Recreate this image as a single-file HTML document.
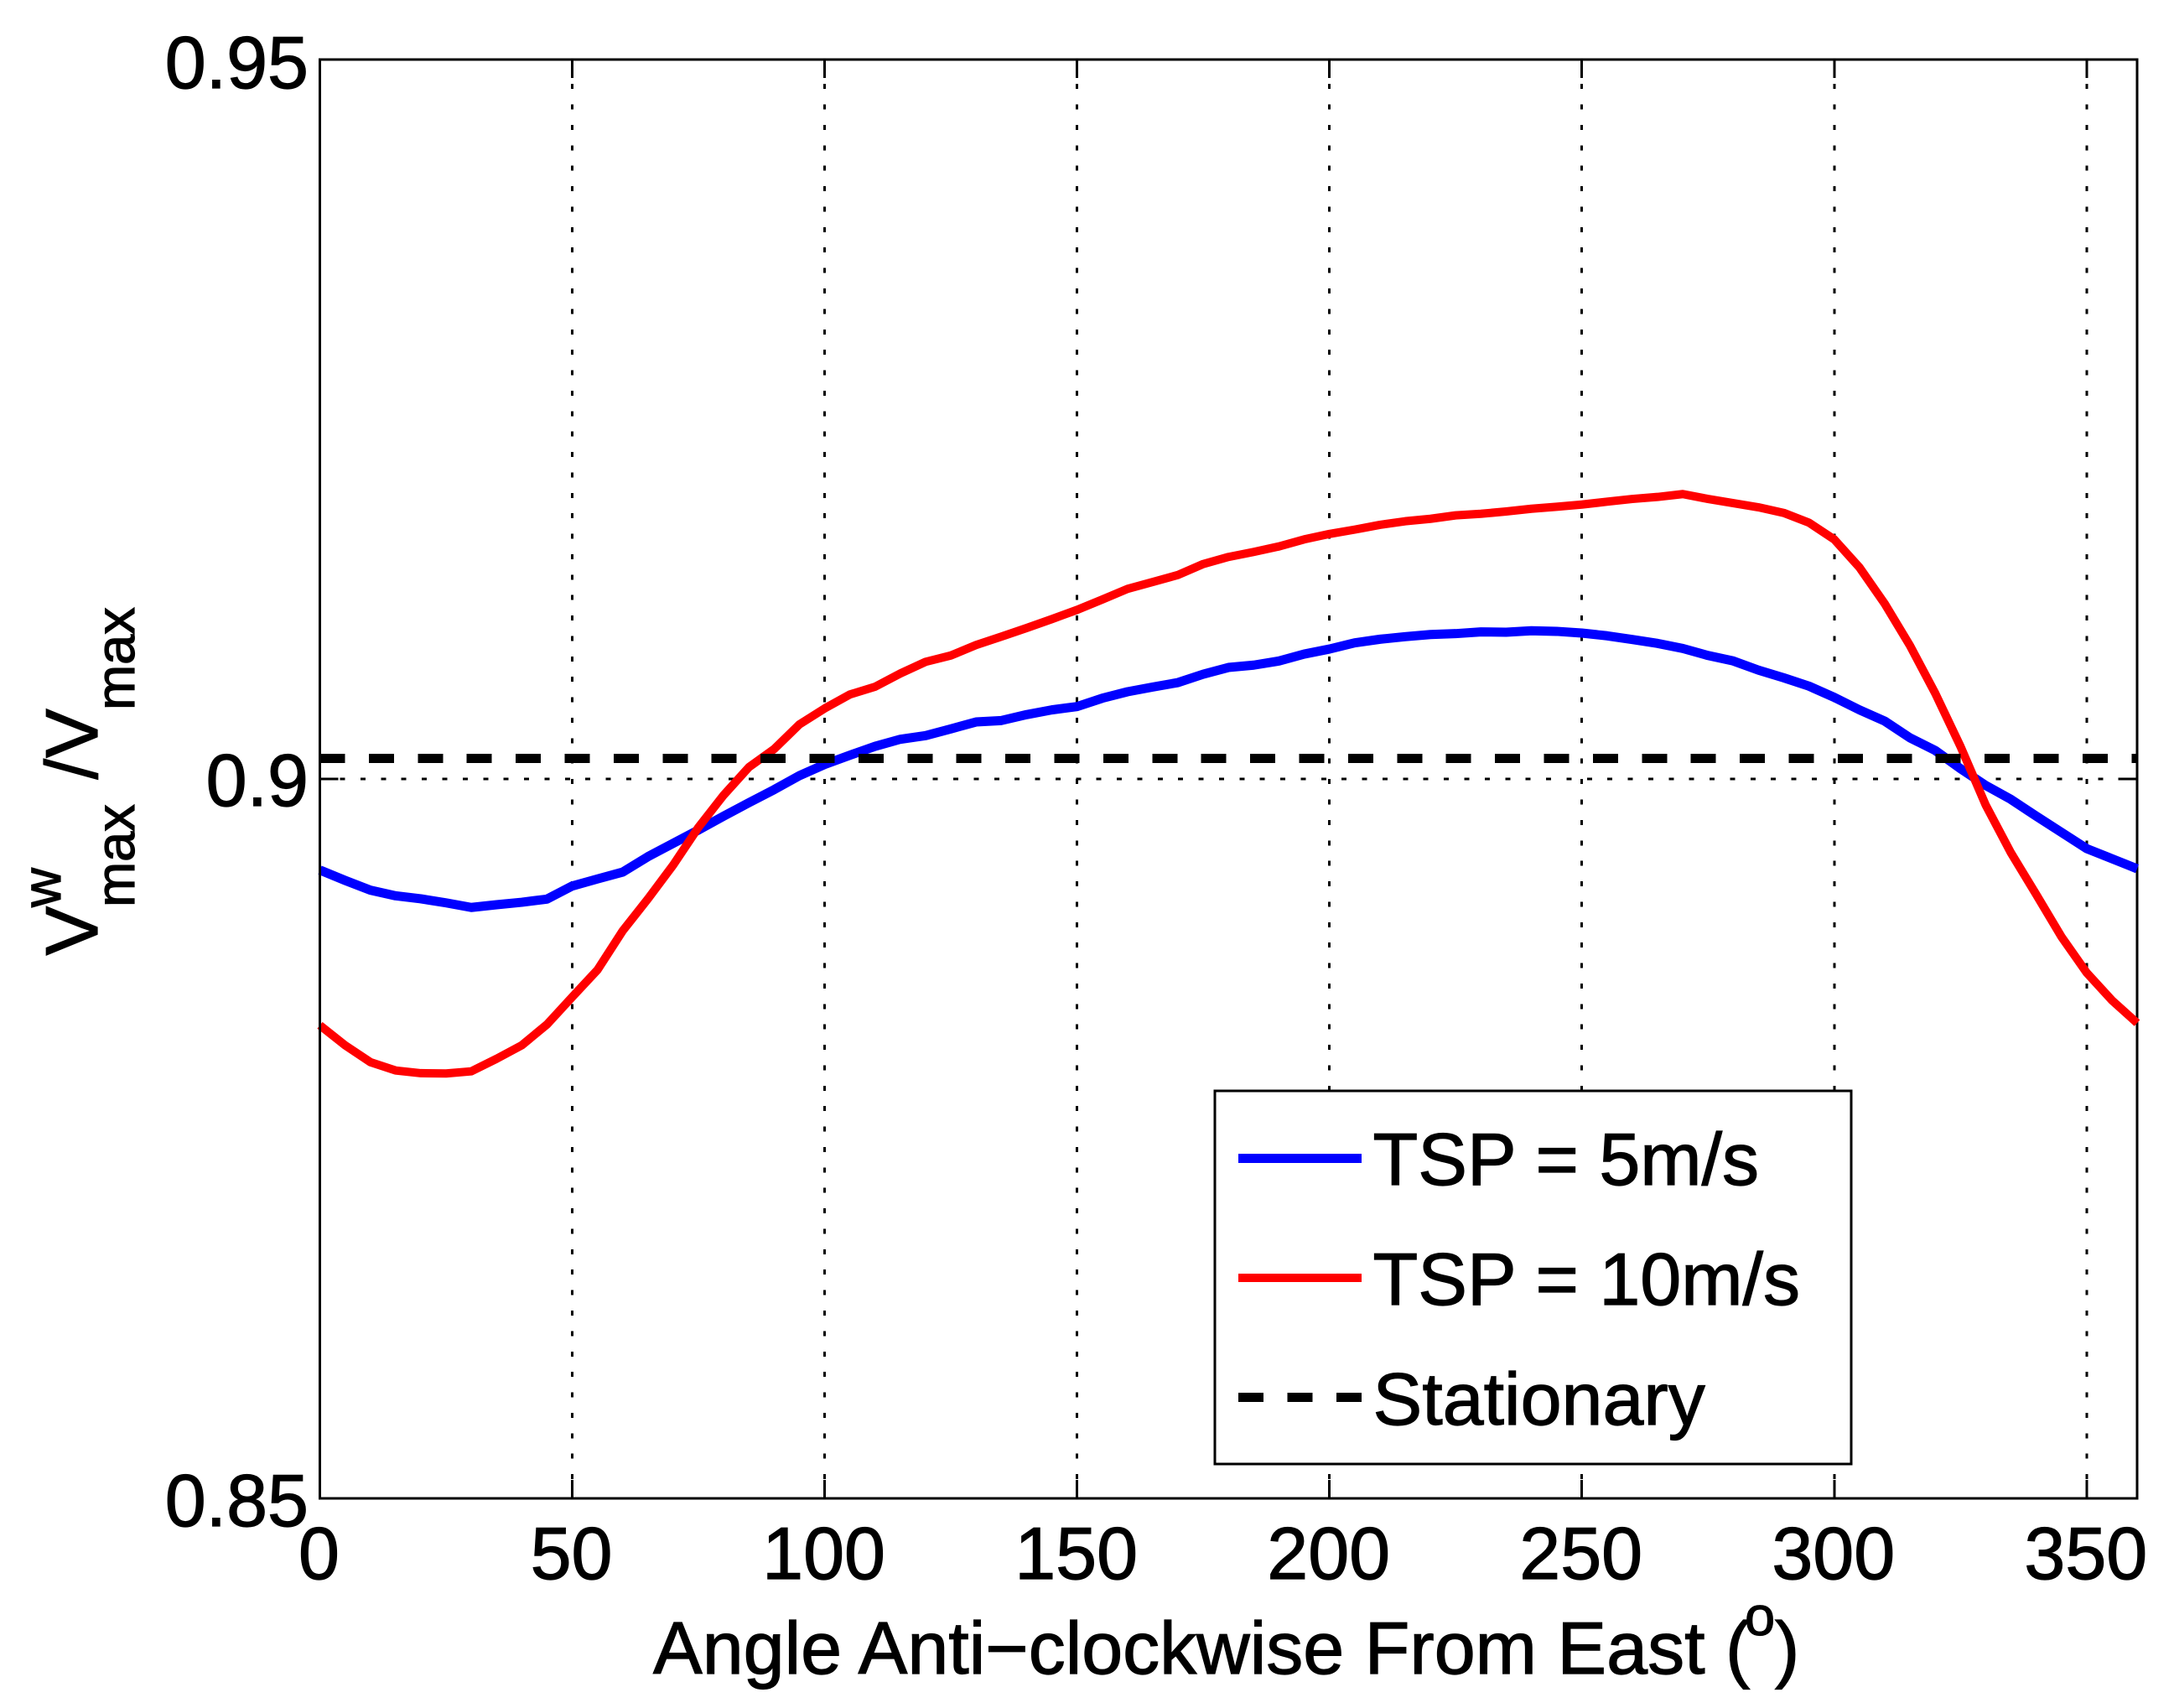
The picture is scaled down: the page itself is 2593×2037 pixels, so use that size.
<!DOCTYPE html>
<html lang="en">
<head>
<meta charset="utf-8">
<title>Vmax ratio versus angle</title>
<style>
html,body{margin:0;padding:0;background:#fff;}
svg{display:block;}
text{font-family:"Liberation Sans",Arial,Helvetica,sans-serif;fill:#000;stroke:#000;stroke-width:1.2px;}
.big{font-size:88px;}
.small{font-size:65px;}
</style>
</head>
<body>
<svg id="chart" xmlns="http://www.w3.org/2000/svg" width="2593" height="2037" viewBox="0 0 2593 2037">
  <rect x="0" y="0" width="2593" height="2037" fill="#ffffff"/>
  <g id="grid"></g>
  <g id="ticks"></g>
  <rect x="381.5" y="71" width="2167.5" height="1716" fill="none" stroke="#000" stroke-width="3" shape-rendering="crispEdges"/>
  <g id="series"></g>
  <line x1="381.5" y1="71" x2="381.5" y2="1787" stroke="#000" stroke-width="3" shape-rendering="crispEdges"/>
  <g id="x-tick-labels"></g>
  <g id="y-tick-labels"></g>

  <g>
    <text class="big" x="779" y="1996">Angle Anti−clockwise From East (</text>
    <text class="small" x="2081" y="1950">o</text>
    <text class="big" x="2117" y="1996">)</text>
  </g>

  <g>
    <text class="big" transform="translate(116,1139.5) rotate(-90)">V</text>
    <text class="small" transform="translate(72,1082) rotate(-90)">w</text>
    <text class="small" transform="translate(160,1082) rotate(-90)">max</text>
    <text class="big" transform="translate(116,929.5) rotate(-90)">/</text>
    <text class="big" transform="translate(116,904) rotate(-90)">V</text>
    <text class="small" transform="translate(160,847) rotate(-90)">max</text>
  </g>

  <g>
    <rect x="1449" y="1301" width="759" height="445" fill="#fff" stroke="#000" stroke-width="3" shape-rendering="crispEdges"/>
    <line x1="1477" y1="1381.5" x2="1624" y2="1381.5" stroke="#0000ff" stroke-width="11" shape-rendering="crispEdges"/>
    <text class="big" x="1637.5" y="1413">TSP = 5m/s</text>
    <line x1="1477" y1="1524" x2="1624" y2="1524" stroke="#ff0000" stroke-width="10" shape-rendering="crispEdges"/>
    <text class="big" x="1637.5" y="1556">TSP = 10m/s</text>
    <line x1="1477" y1="1666.5" x2="1624" y2="1666.5" stroke="#000" stroke-width="11" stroke-dasharray="30 28.5" shape-rendering="crispEdges"/>
    <text class="big" x="1637.5" y="1699">Stationary</text>
  </g>
</svg>

<script>
var angles = [0,5,10,15,20,25,30,35,40,45,50,55,60,65,70,75,80,85,90,95,100,105,110,115,120,125,130,135,140,145,150,155,160,165,170,175,180,185,190,195,200,205,210,215,220,225,230,235,240,245,250,255,260,265,270,275,280,285,290,295,300,305,310,315,320,325,330,335,340,345,350,355,360];
var tsp5Values = [0.89367,0.89295,0.89227,0.89188,0.89167,0.89139,0.89107,0.89126,0.89143,0.89165,0.89256,0.89305,0.89353,0.8946,0.89553,0.89645,0.89742,0.89835,0.89926,0.90023,0.90101,0.90165,0.90227,0.90276,0.90301,0.90348,0.90396,0.90406,0.90447,0.9048,0.90503,0.90561,0.90606,0.90639,0.9067,0.90728,0.90775,0.90791,0.9082,0.90868,0.90903,0.90946,0.90971,0.90989,0.91004,0.9101,0.91022,0.9102,0.9103,0.91026,0.91014,0.90995,0.90969,0.90942,0.90907,0.90858,0.9082,0.90756,0.90703,0.90645,0.90567,0.9048,0.90402,0.90286,0.90198,0.90072,0.89955,0.89858,0.89742,0.89629,0.89516,0.89446,0.89376];
var tsp10Values = [0.88288,0.88149,0.88032,0.87974,0.87955,0.87953,0.87968,0.88055,0.88149,0.88294,0.88485,0.88673,0.88945,0.89167,0.89402,0.89664,0.89888,0.90082,0.90208,0.90379,0.9049,0.90587,0.90641,0.90733,0.90814,0.90858,0.90931,0.90989,0.91049,0.91111,0.91175,0.91247,0.91321,0.91369,0.91418,0.91494,0.91543,0.91578,0.91616,0.91665,0.91703,0.91733,0.91766,0.91791,0.91808,0.91832,0.91843,0.91859,0.91878,0.91892,0.91907,0.91927,0.91946,0.9196,0.9198,0.91946,0.91917,0.91888,0.91849,0.91781,0.91665,0.9147,0.91218,0.90927,0.90596,0.90227,0.89819,0.89487,0.89198,0.88904,0.88654,0.88462,0.88304];
var stationaryAngles = [0,360];
var stationaryValues = [0.90143,0.90143];
var xTickValues = [0,50,100,150,200,250,300,350];
var xTickLabels = ["0","50","100","150","200","250","300","350"];
var yTickValues = [0.85,0.9,0.95];
var yTickLabels = ["0.85","0.9","0.95"];

var SVG_NS = "http://www.w3.org/2000/svg";
var plotLeft = 381.5, plotRight = 2549, plotTop = 71, plotBottom = 1787;
var xMin = 0, xMax = 360, yMin = 0.85, yMax = 0.95;
function xScale(v){ return plotLeft + (v - xMin) / (xMax - xMin) * (plotRight - plotLeft); }
function yScale(v){ return plotBottom - (v - yMin) / (yMax - yMin) * (plotBottom - plotTop); }
function makeLine(x1, y1, x2, y2, width, dash){
  var l = document.createElementNS(SVG_NS, "line");
  l.setAttribute("x1", x1);
  l.setAttribute("y1", y1);
  l.setAttribute("x2", x2);
  l.setAttribute("y2", y2);
  l.setAttribute("stroke", "#000");
  l.setAttribute("stroke-width", width);
  l.setAttribute("shape-rendering", "crispEdges");
  if (dash) { l.setAttribute("stroke-dasharray", dash); }
  return l;
}
function makePath(xs, ys, color, width, dash){
  var d = "";
  for (var i = 0; i < xs.length; i++) {
    d += (i ? "L" : "M") + xScale(xs[i]).toFixed(2) + " " + yScale(ys[i]).toFixed(2);
  }
  var p = document.createElementNS(SVG_NS, "path");
  p.setAttribute("d", d);
  p.setAttribute("fill", "none");
  p.setAttribute("stroke", color);
  p.setAttribute("stroke-width", width);
  p.setAttribute("stroke-linejoin", "round");
  if (dash) {
    p.setAttribute("stroke-dasharray", dash);
    p.setAttribute("shape-rendering", "crispEdges");
  }
  return p;
}

var gridGroup = document.getElementById("grid");
var tickGroup = document.getElementById("ticks");
var xLabelGroup = document.getElementById("x-tick-labels");
var yLabelGroup = document.getElementById("y-tick-labels");
var seriesGroup = document.getElementById("series");
var tickLen = 22;

xTickValues.forEach(function(v, i){
  var x = xScale(v);
  if (v > xMin && v < xMax) {
    var g = makeLine(x, 100.2, x, plotBottom, 3, "6 18.38");
    
    
    gridGroup.appendChild(g);
    var t1 = makeLine(x, plotTop, x, plotTop + tickLen, 3);
    
    
    tickGroup.appendChild(t1);
    var t2 = makeLine(x, plotBottom, x, plotBottom - tickLen, 3);
    
    
    tickGroup.appendChild(t2);
  }
  var label = document.createElementNS(SVG_NS, "text");
  label.setAttribute("class", "big");
  label.setAttribute("x", x - 1);
  label.setAttribute("y", 1883);
  label.setAttribute("text-anchor", "middle");
  
  
  label.textContent = xTickLabels[i];
  xLabelGroup.appendChild(label);
});

var yLabelBaselineOffset = [33, 32, 34];
yTickValues.forEach(function(v, i){
  var y = yScale(v);
  if (v > yMin && v < yMax) {
    var g = makeLine(405.6, y, plotRight, y, 3, "6 18.38");
    
    
    gridGroup.appendChild(g);
    var t1 = makeLine(plotLeft, y, plotLeft + tickLen, y, 3);
    
    
    tickGroup.appendChild(t1);
    var t2 = makeLine(plotRight, y, plotRight - tickLen, y, 3);
    
    
    tickGroup.appendChild(t2);
  }
  var label = document.createElementNS(SVG_NS, "text");
  label.setAttribute("class", "big");
  label.setAttribute("x", 368);
  label.setAttribute("y", y + yLabelBaselineOffset[i]);
  label.setAttribute("text-anchor", "end");
  
  
  label.textContent = yTickLabels[i];
  yLabelGroup.appendChild(label);
});

var blueLine = makePath(angles, tsp5Values, "#0000ff", 11);


seriesGroup.appendChild(blueLine);

var redLine = makePath(angles, tsp10Values, "#ff0000", 10);


seriesGroup.appendChild(redLine);

var stationaryLine = makePath(stationaryAngles, stationaryValues, "#000", 11, "30 28.4");


seriesGroup.appendChild(stationaryLine);
</script>
</body>
</html>
